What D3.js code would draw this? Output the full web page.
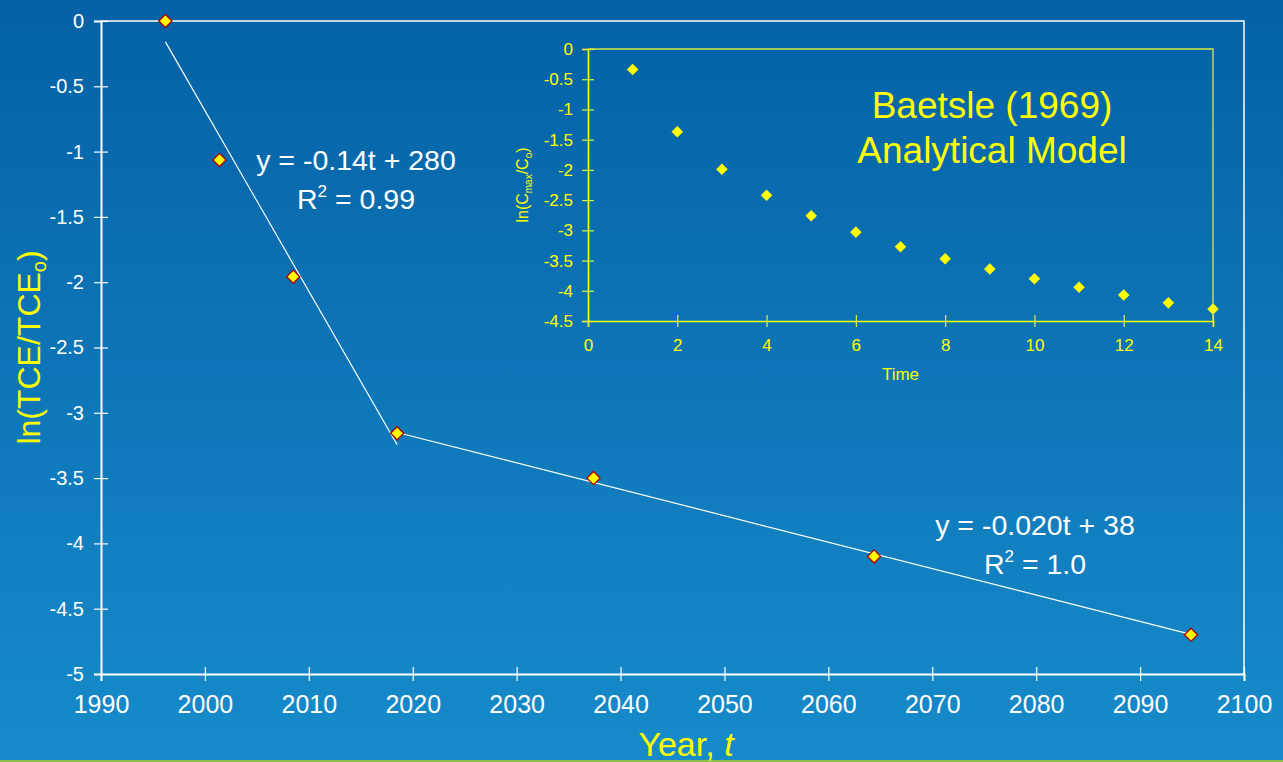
<!DOCTYPE html>
<html>
<head>
<meta charset="utf-8">
<script src="https://cdn.jsdelivr.net/npm/d3@7"></script>
<style>
  body { margin: 0; overflow: hidden; }
  svg { display: block; font-family: "Liberation Sans", Arial, sans-serif; }
</style>
</head>
<body>
<svg id="chart" width="1283" height="762"></svg>
<script>
// field data: ln of TCE ratio per year
var years = [1996.2, 2001.4, 2008.5, 2018.5, 2037.4, 2064.4, 2094.9];
var lnRatio = [0, -1.064, -1.958, -3.157, -3.50, -4.10, -4.70];

// the two fitted trend lines (start and end)
var fit1Years = [1996.2, 2018.5];
var fit1Values = [-0.16, -3.245];
var fit2Years = [2018.5, 2094.9];
var fit2Values = [-3.151, -4.696];

// Baetsle model for the inset
var insetTime = [1, 2, 3, 4, 5, 6, 7, 8, 9, 10, 11, 12, 13, 14];
var insetLn = [-0.34, -1.37, -1.99, -2.42, -2.76, -3.03, -3.27, -3.47, -3.64, -3.80, -3.94, -4.07, -4.20, -4.30];

// tick labels
var yearTicks = [1990, 2000, 2010, 2020, 2030, 2040, 2050, 2060, 2070, 2080, 2090, 2100];
var lnTicks = [0, -0.5, -1, -1.5, -2, -2.5, -3, -3.5, -4, -4.5, -5];
var insetTimeTicks = [0, 2, 4, 6, 8, 10, 12, 14];
var insetLnTicks = [0, -0.5, -1, -1.5, -2, -2.5, -3, -3.5, -4, -4.5];

var svg = d3.select("#chart");

// background gradient
var grad = svg.append("defs").append("linearGradient")
	.attr("id", "bg")
	.attr("x1", 0).attr("y1", 0).attr("x2", 0).attr("y2", 1);
grad.append("stop").attr("offset", "0%").attr("stop-color", "#0461a5");
grad.append("stop").attr("offset", "100%").attr("stop-color", "#178bca");
svg.append("rect").attr("width", 1283).attr("height", 762).attr("fill", "url(#bg)");
svg.append("rect").attr("x", 0).attr("y", 760).attr("width", 1283).attr("height", 2).attr("fill", "#8cc04a");

// main chart scales
var x = d3.scaleLinear().domain([1990, 2100]).range([101, 1244]);
var y = d3.scaleLinear().domain([-5, 0]).range([674, 21]);

var fmt = function(d) { return String(d); };

// plot area border (top and right)
svg.append("path")
	.attr("d", "M" + x(1990) + "," + y(0) + "H" + x(2100) + "V" + y(-5))
	.attr("fill", "none")
	.attr("stroke", "#ffffff")
	.attr("stroke-width", 1.5);

var yAxis = svg.append("g")
	.attr("transform", "translate(" + x(1990) + ",0)")
	.call(d3.axisLeft(y).tickValues(lnTicks).tickFormat(fmt).tickSize(7).tickPadding(10));

var xAxis = svg.append("g")
	.attr("transform", "translate(0," + y(-5) + ")")
	.call(d3.axisBottom(x).tickValues(yearTicks).tickFormat(fmt).tickSize(7).tickPadding(14));

// ticks cross the axis line
yAxis.selectAll(".tick line").attr("x1", -7).attr("x2", 7);
xAxis.selectAll(".tick line").attr("y1", -7).attr("y2", 7);

[yAxis, xAxis].forEach(function(ax) {
	ax.select(".domain").attr("stroke", "#ffffff").attr("stroke-width", 2);
	ax.selectAll(".tick line").attr("stroke", "#ffffff").attr("stroke-width", 1.2);
	ax.selectAll(".tick text").attr("fill", "#ffffff").attr("font-family", "Liberation Sans, Arial, sans-serif");
});
yAxis.selectAll(".tick text").attr("font-size", 20);
xAxis.selectAll(".tick text").attr("font-size", 25);

// axis titles
var yTitle = svg.append("text")
	.attr("transform", "translate(40," + ((y(0) + y(-5)) / 2) + ") rotate(-90)")
	.attr("text-anchor", "middle")
	.attr("fill", "#ffff00")
	.attr("font-size", 32);
yTitle.append("tspan").text("ln(TCE/TCE");
yTitle.append("tspan").attr("font-size", 20).attr("dy", 6).text("o");
yTitle.append("tspan").attr("dy", -6).text(")");

var xTitle = svg.append("text")
	.attr("x", 686)
	.attr("y", 756)
	.attr("text-anchor", "middle")
	.attr("fill", "#ffff00")
	.attr("font-size", 34);
xTitle.append("tspan").text("Year, ");
xTitle.append("tspan").attr("font-style", "italic").text("t");

// trend lines
var line = d3.line()
	.x(function(d) { return x(d[0]); })
	.y(function(d) { return y(d[1]); });

svg.append("path")
	.datum(d3.zip(fit1Years, fit1Values))
	.attr("d", line)
	.attr("fill", "none")
	.attr("stroke", "#ffffff")
	.attr("stroke-width", 1.2);

svg.append("path")
	.datum(d3.zip(fit2Years, fit2Values))
	.attr("d", line)
	.attr("fill", "none")
	.attr("stroke", "#ffffff")
	.attr("stroke-width", 1.2);

// data markers
var diamond = d3.symbol().type(d3.symbolDiamond2).size(110);
svg.selectAll(".pt")
	.data(d3.zip(years, lnRatio))
	.enter()
	.append("path")
	.attr("class", "pt")
	.attr("d", diamond)
	.attr("transform", function(d) { return "translate(" + x(d[0]) + "," + y(d[1]) + ")"; })
	.attr("fill", "#ffff00")
	.attr("stroke", "#b00000")
	.attr("stroke-width", 1.3);

// equation labels
function equation(cx, by, eq, r2) {
	svg.append("text")
		.attr("x", cx).attr("y", by)
		.attr("text-anchor", "middle")
		.attr("fill", "#ffffff")
		.attr("font-size", 28.5)
		.text(eq);
	var t = svg.append("text")
		.attr("x", cx).attr("y", by + 39)
		.attr("text-anchor", "middle")
		.attr("fill", "#ffffff")
		.attr("font-size", 28.5);
	t.append("tspan").text("R");
	t.append("tspan").attr("font-size", 17).attr("dy", -12).text("2");
	t.append("tspan").attr("dy", 12).text(" = " + r2);
}
equation(356, 170, "y = -0.14t + 280", "0.99");
equation(1035, 535, "y = -0.020t + 38", "1.0");

/* inset chart */
var ix = d3.scaleLinear().domain([0, 14]).range([588, 1213]);
var iy = d3.scaleLinear().domain([-4.5, 0]).range([321, 49]);

svg.append("path")
	.attr("d", "M" + ix(0) + "," + iy(0) + "H" + ix(14) + "V" + iy(-4.5))
	.attr("fill", "none")
	.attr("stroke", "#d8e848")
	.attr("stroke-width", 1.3);

var iyAxis = svg.append("g")
	.attr("transform", "translate(" + ix(0) + ",0)")
	.call(d3.axisLeft(iy).tickValues(insetLnTicks).tickFormat(fmt).tickSize(6).tickPadding(9));

var ixAxis = svg.append("g")
	.attr("transform", "translate(0," + iy(-4.5) + ")")
	.call(d3.axisBottom(ix).tickValues(insetTimeTicks).tickFormat(fmt).tickSize(6).tickPadding(12));

iyAxis.selectAll(".tick line").attr("x1", -6).attr("x2", 6);
ixAxis.selectAll(".tick line").attr("y1", -6).attr("y2", 6);

[iyAxis, ixAxis].forEach(function(ax) {
	ax.select(".domain").attr("stroke", "#ffff00").attr("stroke-width", 1.6);
	ax.selectAll(".tick line").attr("stroke", "#e8f040").attr("stroke-width", 1.2);
	ax.selectAll(".tick text")
		.attr("fill", "#ffff00")
		.attr("font-size", 17)
		.attr("font-family", "Liberation Sans, Arial, sans-serif");
});

svg.append("text")
	.attr("x", ix(7))
	.attr("y", 380)
	.attr("text-anchor", "middle")
	.attr("fill", "#ffff00")
	.attr("font-size", 17)
	.text("Time");

var iyTitle = svg.append("text")
	.attr("transform", "translate(528," + ((iy(0) + iy(-4.5)) / 2) + ") rotate(-90)")
	.attr("text-anchor", "middle")
	.attr("fill", "#ffff00")
	.attr("font-size", 16);
iyTitle.append("tspan").text("ln(C");
iyTitle.append("tspan").attr("font-size", 10).attr("dy", 4).text("max");
iyTitle.append("tspan").attr("dy", -4).text("/C");
iyTitle.append("tspan").attr("font-size", 10).attr("dy", 4).text("o");
iyTitle.append("tspan").attr("dy", -4).text(")");

var insetTitle = svg.append("text")
	.attr("text-anchor", "middle")
	.attr("fill", "#ffff00")
	.attr("font-size", 37);
insetTitle.append("tspan").attr("x", 992).attr("y", 118).text("Baetsle (1969)");
insetTitle.append("tspan").attr("x", 992).attr("y", 163).text("Analytical Model");

svg.selectAll(".ipt")
	.data(d3.zip(insetTime, insetLn))
	.enter()
	.append("path")
	.attr("class", "ipt")
	.attr("d", d3.symbol().type(d3.symbolDiamond2).size(85))
	.attr("transform", function(d) { return "translate(" + ix(d[0]) + "," + iy(d[1]) + ")"; })
	.attr("fill", "#ffff00");
</script>
</body>
</html>
